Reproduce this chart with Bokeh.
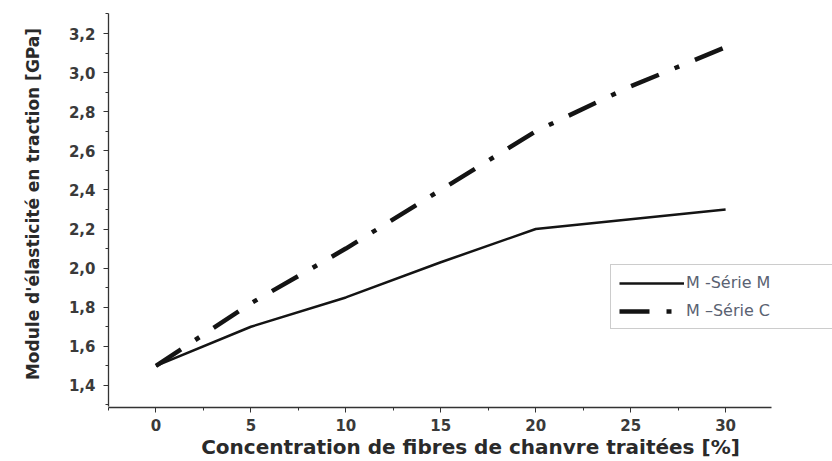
from bokeh.plotting import figure
from bokeh.models import (FixedTicker, CustomJSTickFormatter, Legend, LegendItem,
                          ColumnDataSource)
from bokeh.embed import file_html
from bokeh.resources import INLINE

# Fibre concentration [%] and tensile modulus [GPa]
concentration = [0, 5, 10, 15, 20, 25, 30]
serie_m = [1.50, 1.70, 1.85, 2.03, 2.20, 2.25, 2.30]
serie_c = [1.50, 1.82, 2.10, 2.40, 2.70, 2.93, 3.13]

x_ticks = [0, 5, 10, 15, 20, 25, 30]
x_minor = [-2.5, 2.5, 7.5, 12.5, 17.5, 22.5, 27.5]
y_ticks = [1.4, 1.6, 1.8, 2.0, 2.2, 2.4, 2.6, 2.8, 3.0, 3.2]
y_minor = [1.3, 1.5, 1.7, 1.9, 2.1, 2.3, 2.5, 2.7, 2.9, 3.1, 3.3]

FONT = "DejaVu Sans"

p = figure(width=832, height=461, output_backend="svg", toolbar_location=None,
           x_range=(-2.5, 35.63), y_range=(1.287, 3.369),
           min_border_left=108, min_border_right=0, min_border_top=0,
           min_border_bottom=54)
p.outline_line_color = None
p.grid.visible = False
p.background_fill_color = "white"
p.border_fill_color = "white"

src = ColumnDataSource(dict(x=concentration, m=serie_m, c=serie_c))
r_m = p.line("x", "m", source=src, line_color="#141414", line_width=2.5)
r_c = p.line("x", "c", source=src, line_color="#141414", line_width=4.5,
             line_dash="30 17 5 17")

for ax in (p.xaxis[0], p.yaxis[0]):
    ax.axis_line_color = "#333333"
    ax.axis_line_width = 1.3
    ax.major_tick_line_color = "#333333"
    ax.minor_tick_line_color = "#333333"
    ax.major_tick_in = 0
    ax.major_tick_out = 5
    ax.minor_tick_in = 0
    ax.minor_tick_out = 3
    ax.major_label_text_font = FONT
    ax.major_label_text_font_style = "bold"
    ax.major_label_text_font_size = "15px"
    ax.major_label_text_color = "#3a3a3a"
    ax.axis_label_text_font = FONT
    ax.axis_label_text_font_style = "bold"
    ax.axis_label_text_color = "#2a2a2a"

xa = p.xaxis[0]
xa.ticker = FixedTicker(ticks=x_ticks, minor_ticks=x_minor)
xa.bounds = (-2.5, 32.4)
xa.major_label_standoff = 6
xa.axis_label = "Concentration de fibres de chanvre traitées [%]"
xa.axis_label_text_font_size = "20px"
xa.axis_label_standoff = 1

ya = p.yaxis[0]
ya.ticker = FixedTicker(ticks=y_ticks, minor_ticks=y_minor)
ya.bounds = (1.29, 3.3)
ya.formatter = CustomJSTickFormatter(code="return tick.toFixed(1).replace('.', ',');")
ya.major_label_standoff = 8
ya.axis_label = "Module d'élasticité en traction [GPa]"
ya.axis_label_text_font_size = "17px"
ya.axis_label_standoff = 23

legend = Legend(items=[LegendItem(label="M -Série M", renderers=[r_m]),
                       LegendItem(label="M –Série C", renderers=[r_c])],
                location=(502, 78), orientation="vertical",
                glyph_width=65, glyph_height=18, label_height=18,
                spacing=9, padding=8, margin=0, label_standoff=2,
                label_width=200,
                label_text_font=FONT, label_text_font_size="16px",
                label_text_color="#5a6272",
                border_line_color="#9a9a9a", border_line_width=1.5,
                background_fill_color="white", background_fill_alpha=1)
p.add_layout(legend, "center")

open("out.html", "w").write(file_html(p, INLINE))
